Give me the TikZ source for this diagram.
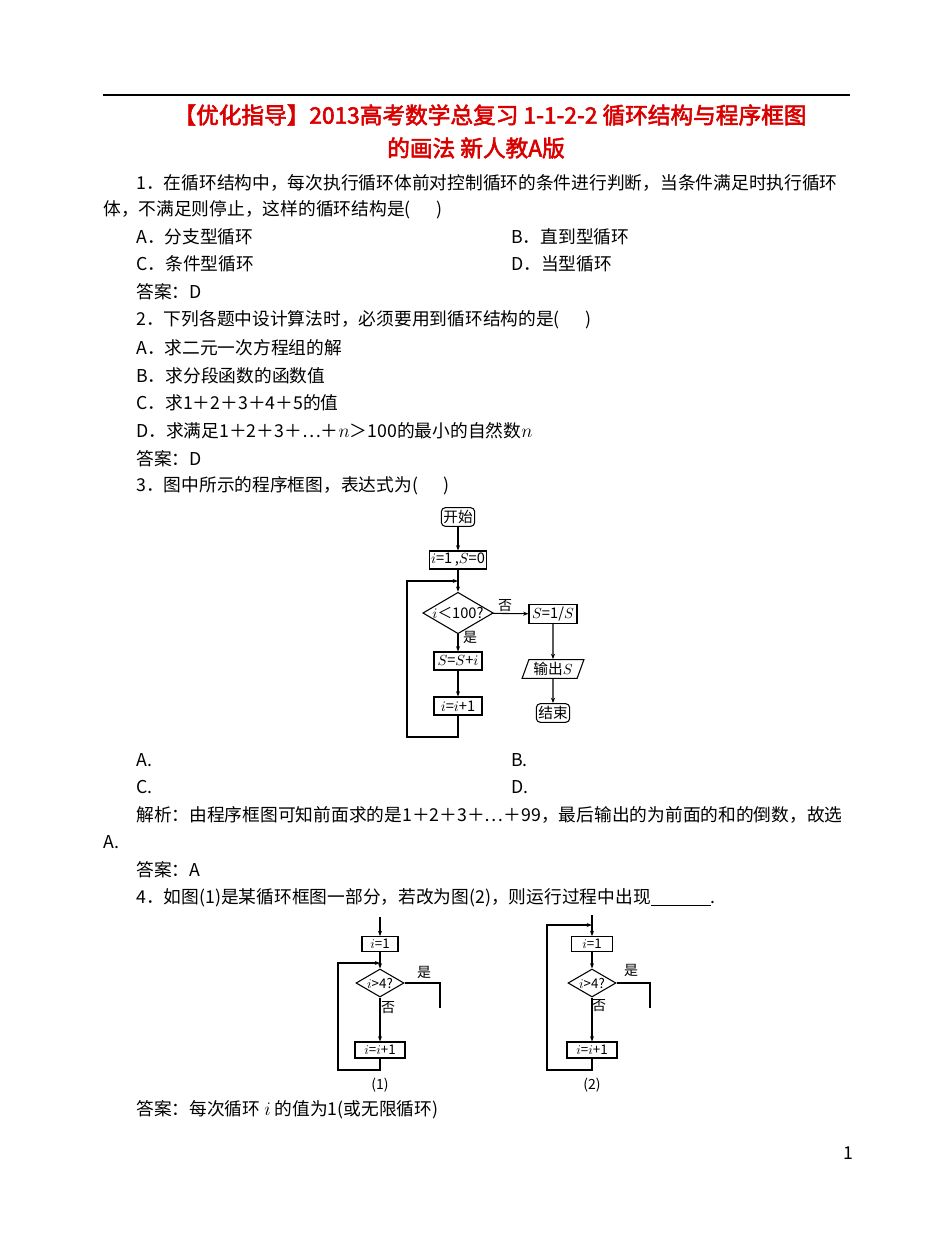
\documentclass[tikz,border=0pt]{standalone}
\usepackage{fontspec}
\newfontfamily\cjk[AutoFakeBold=2.5]{Noto Sans CJK SC}
\usetikzlibrary{shapes.geometric,arrows.meta}
\begin{document}
\begin{tikzpicture}[x=0.75pt,y=-0.75pt,
 txt/.style={anchor=west,inner sep=0,font=\cjk\fontsize{13.3}{14}\selectfont},
 ttl/.style={inner sep=0,text=red!85!black,font=\cjk\bfseries\fontsize{17}{18}\selectfont},
 fb/.style={draw,thick,inner sep=1pt,font=\cjk\fontsize{11}{12}\selectfont},
 sb/.style={draw,thick,inner sep=1pt,font=\cjk\fontsize{10}{11}\selectfont},
 lab/.style={inner sep=0,font=\cjk\fontsize{10.5}{11}\selectfont},
 ar/.style={thick,-{Stealth[length=4pt]}},
 ln/.style={thick}]
\useasboundingbox (0,0) rectangle (950,1250);
\fill[white] (0,0) rectangle (950,1250);
\draw[line width=0.8pt] (103,95) -- (850,95);
\node[ttl] (h1) at (490,115) {【优化指导】2013高考数学总复习 1-1-2-2 循环结构与程序框图};
\node[ttl] (h2) at (476,148) {的画法 新人教A版};
\node[txt] (l1) at (136,183) {1．在循环结构中，每次执行循环体前对控制循环的条件进行判断，当条件满足时执行循环};
\node[txt] (l2) at (103,210) {体，不满足则停止，这样的循环结构是(\quad\ \ )};
\node[txt] (l3a) at (136,237) {A．分支型循环};
\node[txt] (l3b) at (511,237) {B．直到型循环};
\node[txt] (l4a) at (136,264) {C．条件型循环};
\node[txt] (l4b) at (511,264) {D．当型循环};
\node[txt] (l5) at (136,292) {答案：D};
\node[txt] (l6) at (136,320) {2．下列各题中设计算法时，必须要用到循环结构的是(\quad\ \ )};
\node[txt] (l7) at (136,348) {A．求二元一次方程组的解};
\node[txt] (l8) at (136,376) {B．求分段函数的函数值};
\node[txt] (l9) at (136,403) {C．求1＋2＋3＋4＋5的值};
\node[txt] (l10) at (136,431) {D．求满足1＋2＋3＋…＋$n$＞100的最小的自然数$n$};
\node[txt] (l11) at (136,459) {答案：D};
\node[txt] (l12) at (136,486) {3．图中所示的程序框图，表达式为(\quad\ \ )};
% flowchart 3
\node[fb,rounded corners=3pt,minimum width=25pt,minimum height=14pt] (st) at (458,517) {开始};
\node[fb,minimum width=37.5pt,minimum height=13.5pt] (init) at (458,560) {$i$=1\,,$S$=0};
\node[fb,diamond,aspect=1.7,inner sep=0,minimum width=51pt,minimum height=30pt] (cond) at (458,613) {$i$＜100?};
\node[fb,minimum width=36pt,minimum height=13.5pt] (sum) at (458,661) {$S$=$S$+$i$};
\node[fb,minimum width=36pt,minimum height=13.5pt] (inc) at (458,706) {$i$=$i$+1};
\node[fb,minimum width=36pt,minimum height=14pt] (rec) at (553,614) {$S$=1/$S$};
\node[fb,trapezium,trapezium left angle=70,trapezium right angle=110,minimum width=42pt,minimum height=14pt,inner sep=1pt] (out) at (553,669) {输出$S$};
\node[fb,rounded corners=3pt,minimum width=25pt,minimum height=14pt] (end) at (553,713) {结束};
\coordinate (j1) at (458,581);
\draw[ar] (st) -- (init);
\draw[ar] (init) -- (cond);
\draw[ar] (cond) -- (sum);
\draw[ar] (sum) -- (inc);
\draw[ar] (cond) -- (rec);
\draw[ar] (rec) -- (out);
\draw[ar] (out) -- (end);
\draw[ar] (inc.south) -- (458,737) -- (407,737) -- (407,581) -- (j1);
\node[lab] (no3) at (505,606) {否};
\node[lab] (yes3) at (470,637) {是};
\node[txt] (a1) at (136,760) {A.};
\node[txt] (b1) at (511,760) {B.};
\node[txt] (c1) at (136,787) {C.};
\node[txt] (d1) at (511,787) {D.};
\node[txt] (l13) at (136,815) {解析：由程序框图可知前面求的是1＋2＋3＋…＋99，最后输出的为前面的和的倒数，故选};
\node[txt] (l14) at (103,842) {A.};
\node[txt] (l15) at (136,870) {答案：A};
\node[txt] (l16) at (136,898) {4．如图(1)是某循环框图一部分，若改为图(2)，则运行过程中出现\underline{\hspace{45pt}}.};
% flowchart (1)
\coordinate (p0) at (380,917);
\node[sb,minimum width=27pt,minimum height=11pt] (pa) at (380,944) {$i$=1};
\node[sb,diamond,aspect=1.7,inner sep=0,minimum width=36pt,minimum height=21pt] (pd) at (380,983) {$i$>4?};
\node[sb,minimum width=37.5pt,minimum height=12pt] (pb) at (380,1050) {$i$=$i$+1};
\coordinate (pj) at (380,963);
\draw[ar] (p0) -- (pa);
\draw[ar] (pa) -- (pd);
\draw[ar] (pd) -- (pb);
\draw[ln] (pd.east) -- (440,983) -- (440,1008);
\draw[ar] (pb.south) -- (380,1070) -- (338,1070) -- (338,963) -- (pj);
\node[lab] (py) at (424,972) {是};
\node[lab] (pn) at (388,1008) {否};
\node[lab] (pc) at (380,1085) {(1)};
% flowchart (2)
\coordinate (q0) at (592,915);
\node[sb,minimum width=31pt,minimum height=11pt] (qa) at (592,944) {$i$=1};
\node[sb,diamond,aspect=1.7,inner sep=0,minimum width=36pt,minimum height=21pt] (qd) at (592,983) {$i$>4?};
\node[sb,minimum width=37.5pt,minimum height=12pt] (qb) at (592,1050) {$i$=$i$+1};
\coordinate (qj) at (592,925);
\draw[ar] (q0) -- (qa);
\draw[ar] (qa) -- (qd);
\draw[ar] (qd) -- (qb);
\draw[ln] (qd.east) -- (650,983) -- (650,1008);
\draw[ar] (qb.south) -- (592,1070) -- (547,1070) -- (547,925) -- (qj);
\node[lab] (qy) at (631,970) {是};
\node[lab] (qn) at (599,1006) {否};
\node[lab] (qc) at (592,1085) {(2)};
\node[txt] (l17) at (136,1110) {答案：每次循环 $i$ 的值为1(或无限循环)};
\node[txt] (pg) at (843,1153) {1};
\end{tikzpicture}
\end{document}
